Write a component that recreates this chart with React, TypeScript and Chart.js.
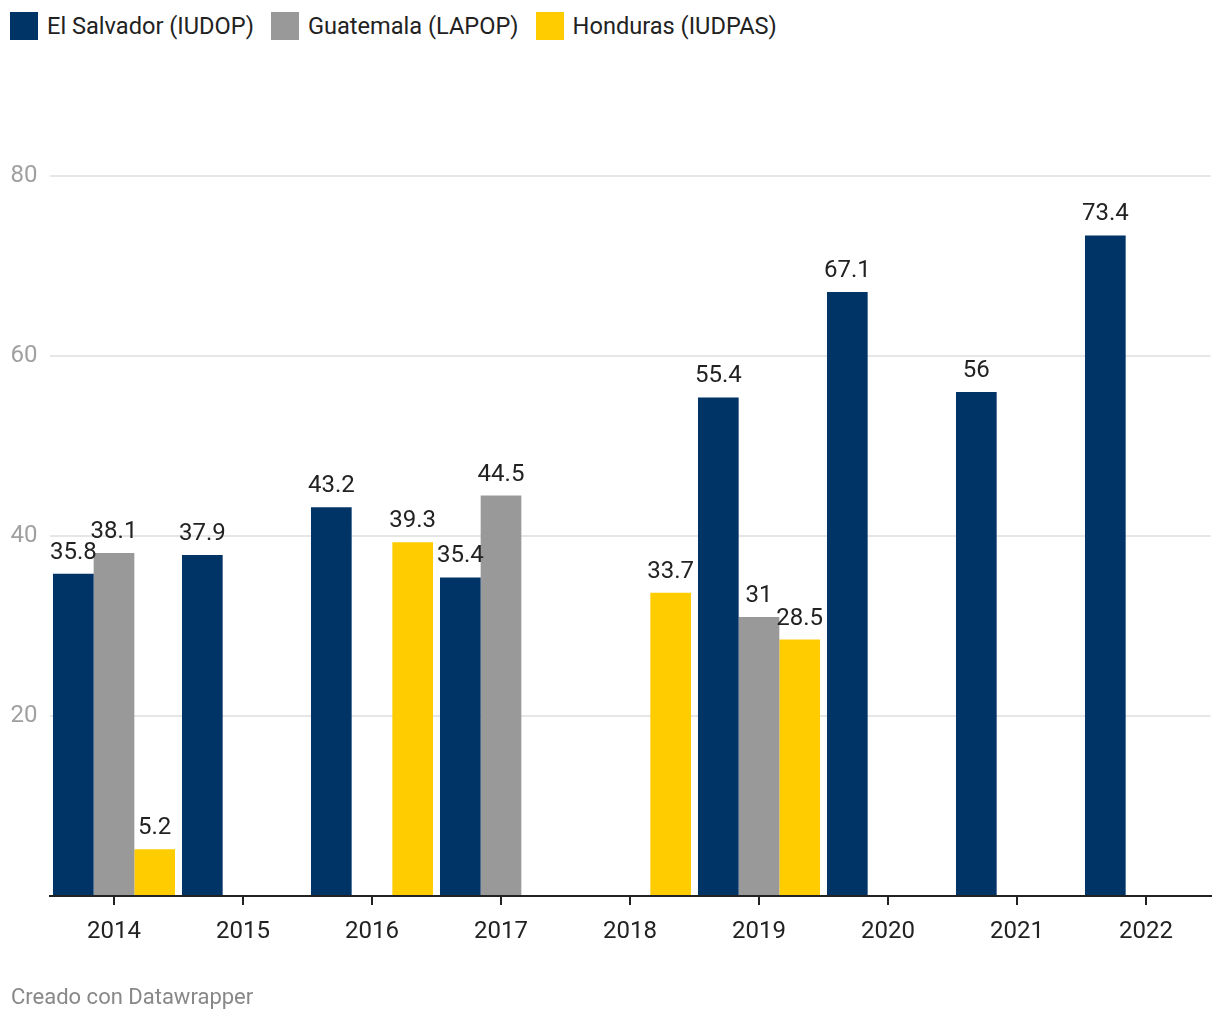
import React, { useEffect, useRef } from "react";
import { Chart, registerables } from "chart.js";

Chart.register(...registerables);

const categories = ["2014", "2015", "2016", "2017", "2018", "2019", "2020", "2021", "2022"];
const elSalvador: (number | null)[] = [35.8, 37.9, 43.2, 35.4, null, 55.4, 67.1, 56, 73.4];
const guatemala: (number | null)[] = [38.1, null, null, 44.5, null, 31, null, null, null];
const honduras: (number | null)[] = [5.2, null, 39.3, null, 33.7, 28.5, null, null, null];
const seriesNames = ["El Salvador (IUDOP)", "Guatemala (LAPOP)", "Honduras (IUDPAS)"];
const seriesColors = ["#003366", "#999999", "#ffcc00"];
const yTicks = [0, 20, 40, 60, 80];

const FONT = "Roboto, 'Noto Sans', sans-serif";

const valueLabels = {
  id: "valueLabels",
  afterDatasetsDraw(chart: any) {
    const ctx = chart.ctx;
    ctx.save();
    ctx.font = `24px ${FONT}`;
    ctx.fillStyle = "#222222";
    ctx.textAlign = "center";
    ctx.textBaseline = "alphabetic";
    chart.data.datasets.forEach((ds: any, i: number) => {
      const meta = chart.getDatasetMeta(i);
      meta.data.forEach((el: any, j: number) => {
        const v = ds.data[j];
        if (v === null || v === undefined) return;
        ctx.fillText(String(v), el.x, el.y - 15);
      });
    });
    ctx.restore();
  },
};

export default function App() {
  const canvasRef = useRef<HTMLCanvasElement | null>(null);

  useEffect(() => {
    if (!canvasRef.current) return;
    const chart = new Chart(canvasRef.current, {
      type: "bar",
      data: {
        labels: categories,
        datasets: [elSalvador, guatemala, honduras].map((d, i) => ({
          label: seriesNames[i],
          data: d,
          backgroundColor: seriesColors[i],
          borderWidth: 0,
          barPercentage: 1,
          categoryPercentage: 0.946,
        })),
      },
      options: {
        animation: false,
        responsive: false,
        devicePixelRatio: 1,
        layout: { padding: { top: 176, right: 9.5, left: 0, bottom: 0 } },
        plugins: {
          legend: { display: false },
          tooltip: { enabled: false },
        },
        scales: {
          x: {
            grid: {
              drawOnChartArea: false,
              offset: false,
              tickLength: 9,
              color: "#222222",
              lineWidth: 2,
            },
            border: { color: "#222222", width: 2 },
            ticks: {
              font: { family: FONT, size: 24 },
              color: "#222222",
              padding: 13,
            },
            afterFit: (s: any) => {
              s.height = 124;
            },
          },
          y: {
            min: 0,
            max: 80,
            afterBuildTicks: (s: any) => {
              s.ticks = yTicks.map((v) => ({ value: v }));
            },
            ticks: {
              font: { family: FONT, size: 24 },
              color: "#a0a0a0",
              padding: 12,
              callback: (v: any) => (v === 0 ? "" : String(v)),
            },
            grid: {
              drawTicks: false,
              lineWidth: 2,
              color: (c: any) => (c.tick && c.tick.value === 0 ? "rgba(0,0,0,0)" : "#e6e6e6"),
            },
            border: { display: false },
            afterFit: (s: any) => {
              s.width = 49.5;
            },
          },
        },
      },
      plugins: [valueLabels],
    });
    return () => chart.destroy();
  }, []);

  return (
    <div style={{ position: "absolute", left: 0, top: 0, width: 1220, height: 1020, background: "#fff", fontFamily: FONT }}>
      <div style={{ position: "absolute", left: 10, top: 12, display: "flex", gap: 17 }}>
        {seriesNames.map((n, i) => (
          <div key={n} style={{ display: "flex", alignItems: "center" }}>
            <div style={{ width: 28, height: 28, background: seriesColors[i], marginRight: 9 }} />
            <span style={{ fontSize: 23.6, lineHeight: "28px", color: "#222222" }}>{n}</span>
          </div>
        ))}
      </div>
      <canvas ref={canvasRef} width={1220} height={1020} style={{ position: "absolute", left: 0, top: 0 }} />
      <div style={{ position: "absolute", left: 11, top: 985, fontSize: 22, lineHeight: "24px", color: "#888888" }}>
        Creado con Datawrapper
      </div>
    </div>
  );
}
